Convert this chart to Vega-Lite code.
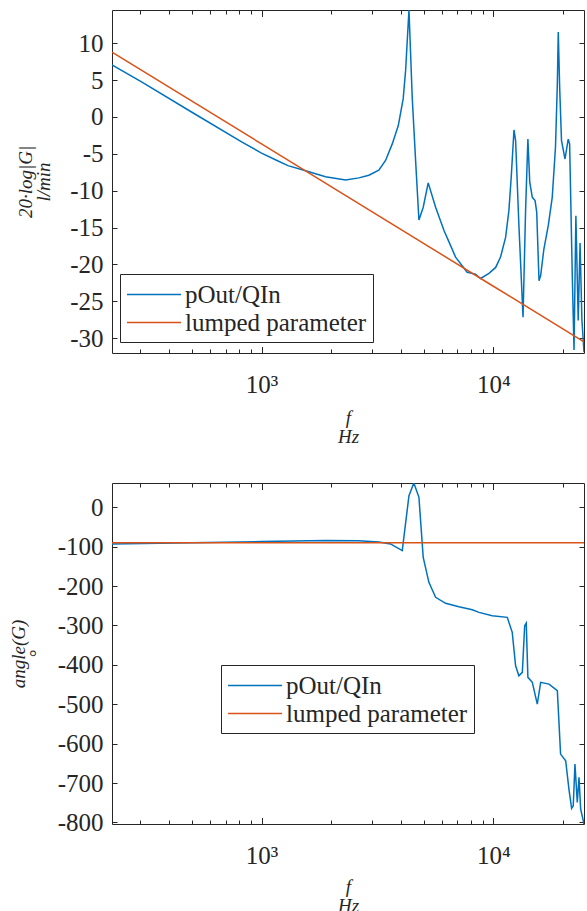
{
  "$schema": "https://vega.github.io/schema/vega-lite/v6.json",
  "padding": {"left": 8, "top": 6, "right": 2, "bottom": 0},
  "background": "white",
  "config": {
    "font": "Liberation Serif",
    "view": {"stroke": "#262626", "strokeWidth": 1},
    "axis": {"labelFont": "Liberation Serif", "labelFontSize": 25, "labelColor": "#262626", "domain": false, "tickColor": "#262626", "tickWidth": 1, "grid": false, "titleFont": "Liberation Serif", "titleFontSize": 19, "titleFontWeight": "normal", "titleFontStyle": "italic", "titleColor": "#262626", "labelFlush": false, "labelOverlap": false},
    "legend": {"title": null, "symbolType": "M-1,0H3", "symbolSize": 729, "symbolStrokeWidth": 1.5, "labelFontSize": 25, "labelFont": "Liberation Serif", "labelColor": "#262626", "labelLimit": 400, "strokeColor": "#262626", "fillColor": "white", "padding": 6, "rowPadding": -1, "labelOffset": 30, "cornerRadius": 0}
  },
  "datasets": {
    "mag": [
      {"f": 226.5, "v": 7.06, "s": "pOut/QIn"},
      {"f": 305, "v": 4.71, "s": "pOut/QIn"},
      {"f": 501, "v": 0.64, "s": "pOut/QIn"},
      {"f": 824, "v": -3.4, "s": "pOut/QIn"},
      {"f": 1000, "v": -4.9, "s": "pOut/QIn"},
      {"f": 1148, "v": -5.8, "s": "pOut/QIn"},
      {"f": 1300, "v": -6.6, "s": "pOut/QIn"},
      {"f": 1549, "v": -7.3, "s": "pOut/QIn"},
      {"f": 1888, "v": -8.1, "s": "pOut/QIn"},
      {"f": 2305, "v": -8.54, "s": "pOut/QIn"},
      {"f": 2630, "v": -8.26, "s": "pOut/QIn"},
      {"f": 2904, "v": -7.9, "s": "pOut/QIn"},
      {"f": 3206, "v": -7.2, "s": "pOut/QIn"},
      {"f": 3428, "v": -5.9, "s": "pOut/QIn"},
      {"f": 3664, "v": -3.65, "s": "pOut/QIn"},
      {"f": 3890, "v": -1.17, "s": "pOut/QIn"},
      {"f": 4083, "v": 2.45, "s": "pOut/QIn"},
      {"f": 4183, "v": 6.28, "s": "pOut/QIn"},
      {"f": 4325, "v": 14.5, "s": "pOut/QIn"},
      {"f": 4467, "v": 2.68, "s": "pOut/QIn"},
      {"f": 4620, "v": -5.92, "s": "pOut/QIn"},
      {"f": 4775, "v": -13.96, "s": "pOut/QIn"},
      {"f": 4983, "v": -12.24, "s": "pOut/QIn"},
      {"f": 5236, "v": -8.94, "s": "pOut/QIn"},
      {"f": 5636, "v": -12.24, "s": "pOut/QIn"},
      {"f": 6124, "v": -15.4, "s": "pOut/QIn"},
      {"f": 6471, "v": -17.1, "s": "pOut/QIn"},
      {"f": 6871, "v": -19.0, "s": "pOut/QIn"},
      {"f": 7709, "v": -21.05, "s": "pOut/QIn"},
      {"f": 8375, "v": -21.3, "s": "pOut/QIn"},
      {"f": 8810, "v": -21.9, "s": "pOut/QIn"},
      {"f": 9572, "v": -21.2, "s": "pOut/QIn"},
      {"f": 10233, "v": -20.4, "s": "pOut/QIn"},
      {"f": 10740, "v": -19.0, "s": "pOut/QIn"},
      {"f": 11298, "v": -16.3, "s": "pOut/QIn"},
      {"f": 11668, "v": -12.7, "s": "pOut/QIn"},
      {"f": 11940, "v": -8.2, "s": "pOut/QIn"},
      {"f": 12274, "v": -1.76, "s": "pOut/QIn"},
      {"f": 12474, "v": -3.2, "s": "pOut/QIn"},
      {"f": 12882, "v": -14.5, "s": "pOut/QIn"},
      {"f": 13428, "v": -27.15, "s": "pOut/QIn"},
      {"f": 13772, "v": -12.7, "s": "pOut/QIn"},
      {"f": 14093, "v": -2.98, "s": "pOut/QIn"},
      {"f": 14355, "v": -8.85, "s": "pOut/QIn"},
      {"f": 14723, "v": -10.9, "s": "pOut/QIn"},
      {"f": 15136, "v": -11.34, "s": "pOut/QIn"},
      {"f": 15382, "v": -12.9, "s": "pOut/QIn"},
      {"f": 15740, "v": -22.2, "s": "pOut/QIn"},
      {"f": 15996, "v": -21.5, "s": "pOut/QIn"},
      {"f": 16520, "v": -17.9, "s": "pOut/QIn"},
      {"f": 17258, "v": -14.7, "s": "pOut/QIn"},
      {"f": 17947, "v": -10.9, "s": "pOut/QIn"},
      {"f": 18535, "v": -4.1, "s": "pOut/QIn"},
      {"f": 18880, "v": 4.48, "s": "pOut/QIn"},
      {"f": 19055, "v": 11.5, "s": "pOut/QIn"},
      {"f": 19320, "v": 4.03, "s": "pOut/QIn"},
      {"f": 19679, "v": -3.2, "s": "pOut/QIn"},
      {"f": 20370, "v": -5.7, "s": "pOut/QIn"},
      {"f": 21038, "v": -3.0, "s": "pOut/QIn"},
      {"f": 21330, "v": -3.65, "s": "pOut/QIn"},
      {"f": 21878, "v": -20.8, "s": "pOut/QIn"},
      {"f": 22284, "v": -31.6, "s": "pOut/QIn"},
      {"f": 22699, "v": -13.4, "s": "pOut/QIn"},
      {"f": 23227, "v": -27.6, "s": "pOut/QIn"},
      {"f": 23659, "v": -17.1, "s": "pOut/QIn"},
      {"f": 24099, "v": -27.5, "s": "pOut/QIn"},
      {"f": 24604, "v": -31.9, "s": "pOut/QIn"},
      {"f": 226.5, "v": 8.8, "s": "lumped parameter"},
      {"f": 1000, "v": -3.65, "s": "lumped parameter"},
      {"f": 10000, "v": -22.95, "s": "lumped parameter"},
      {"f": 24604, "v": -30.5, "s": "lumped parameter"}
    ],
    "ph": [
      {"f": 226.5, "v": -93, "s": "pOut/QIn"},
      {"f": 500, "v": -90, "s": "pOut/QIn"},
      {"f": 1000, "v": -87, "s": "pOut/QIn"},
      {"f": 1888, "v": -84, "s": "pOut/QIn"},
      {"f": 2630, "v": -85, "s": "pOut/QIn"},
      {"f": 3206, "v": -88, "s": "pOut/QIn"},
      {"f": 3600, "v": -93, "s": "pOut/QIn"},
      {"f": 4046, "v": -110, "s": "pOut/QIn"},
      {"f": 4325, "v": 29.5, "s": "pOut/QIn"},
      {"f": 4540, "v": 61.7, "s": "pOut/QIn"},
      {"f": 4775, "v": 25.4, "s": "pOut/QIn"},
      {"f": 4983, "v": -127, "s": "pOut/QIn"},
      {"f": 5272, "v": -190.5, "s": "pOut/QIn"},
      {"f": 5636, "v": -228.6, "s": "pOut/QIn"},
      {"f": 6224, "v": -243.8, "s": "pOut/QIn"},
      {"f": 7103, "v": -252.4, "s": "pOut/QIn"},
      {"f": 8110, "v": -260, "s": "pOut/QIn"},
      {"f": 8670, "v": -266.7, "s": "pOut/QIn"},
      {"f": 9885, "v": -275.3, "s": "pOut/QIn"},
      {"f": 11482, "v": -279.4, "s": "pOut/QIn"},
      {"f": 12063, "v": -317.5, "s": "pOut/QIn"},
      {"f": 12474, "v": -402.3, "s": "pOut/QIn"},
      {"f": 12882, "v": -427.7, "s": "pOut/QIn"},
      {"f": 13336, "v": -419, "s": "pOut/QIn"},
      {"f": 13650, "v": -300.7, "s": "pOut/QIn"},
      {"f": 13865, "v": -293.8, "s": "pOut/QIn"},
      {"f": 14093, "v": -431.7, "s": "pOut/QIn"},
      {"f": 14723, "v": -444.4, "s": "pOut/QIn"},
      {"f": 15470, "v": -499.6, "s": "pOut/QIn"},
      {"f": 15996, "v": -444.4, "s": "pOut/QIn"},
      {"f": 17378, "v": -448.8, "s": "pOut/QIn"},
      {"f": 18880, "v": -465.7, "s": "pOut/QIn"},
      {"f": 19187, "v": -546, "s": "pOut/QIn"},
      {"f": 19498, "v": -626.5, "s": "pOut/QIn"},
      {"f": 20512, "v": -643.5, "s": "pOut/QIn"},
      {"f": 21184, "v": -715.4, "s": "pOut/QIn"},
      {"f": 21756, "v": -764.4, "s": "pOut/QIn"},
      {"f": 22110, "v": -757.8, "s": "pOut/QIn"},
      {"f": 22491, "v": -652, "s": "pOut/QIn"},
      {"f": 23014, "v": -749, "s": "pOut/QIn"},
      {"f": 23417, "v": -685.7, "s": "pOut/QIn"},
      {"f": 23800, "v": -766, "s": "pOut/QIn"},
      {"f": 24604, "v": -804, "s": "pOut/QIn"},
      {"f": 226.5, "v": -90, "s": "lumped parameter"},
      {"f": 24604, "v": -90, "s": "lumped parameter"}
    ]
  },
  "spacing": 32,
  "resolve": {"scale": {"color": "independent"}, "legend": {"color": "independent"}},
  "vconcat": [
    {
      "width": 472,
      "height": 343,
      "data": {"name": "mag"},
      "layer": [
        {
          "mark": {"type": "line", "clip": true, "strokeWidth": 1.5},
          "encoding": {
            "x": {"field": "f", "type": "quantitative", "scale": {"type": "log", "domain": [226.5, 24604], "nice": false}, "axis": {"orient": "bottom", "values": [1000, 10000], "tickSize": -6.5, "labelPadding": 26, "labelExpr": "datum.value == 1000 ? '10³' : '10⁴'", "title": ["f", "Hz"], "titlePadding": 11, "titleLineHeight": 19}},
            "y": {"field": "v", "type": "quantitative", "scale": {"domain": [-32, 14.5], "nice": false, "zero": false}, "axis": {"orient": "left", "values": [-30, -25, -20, -15, -10, -5, 0, 5, 10], "tickSize": -5, "labelPadding": 14, "labelExpr": "'' + datum.value", "title": ["20·log|G|", "l/min"], "titlePadding": 16, "titleLineHeight": 18}},
            "color": {"field": "s", "type": "nominal", "scale": {"domain": ["pOut/QIn", "lumped parameter"], "range": ["#0072BD", "#D95319"]}, "legend": {"orient": "none", "legendX": 8, "legendY": 264}}
          }
        },
        {
          "mark": {"type": "point", "opacity": 0},
          "encoding": {
            "x": {"field": "f", "type": "quantitative", "axis": {"orient": "top", "values": [1000, 10000], "tickSize": -6.5, "labels": false, "title": null}},
            "y": {"field": "v", "type": "quantitative", "axis": {"orient": "right", "values": [-30, -25, -20, -15, -10, -5, 0, 5, 10], "tickSize": -5, "labels": false, "title": null}}
          }
        },
        {
          "mark": {"type": "point", "opacity": 0},
          "encoding": {
            "x": {"field": "f", "type": "quantitative", "axis": {"orient": "bottom", "values": [300, 400, 500, 600, 700, 800, 900, 2000, 3000, 4000, 5000, 6000, 7000, 8000, 9000, 20000], "tickSize": -4, "labels": false, "title": null}},
            "y": {"field": "v", "type": "quantitative", "axis": null}
          }
        },
        {
          "mark": {"type": "point", "opacity": 0},
          "encoding": {
            "x": {"field": "f", "type": "quantitative", "axis": {"orient": "top", "values": [300, 400, 500, 600, 700, 800, 900, 2000, 3000, 4000, 5000, 6000, 7000, 8000, 9000, 20000], "tickSize": -4, "labels": false, "title": null}},
            "y": {"field": "v", "type": "quantitative", "axis": null}
          }
        }
      ]
    },
    {
      "width": 472,
      "height": 341,
      "data": {"name": "ph"},
      "layer": [
        {
          "mark": {"type": "line", "clip": true, "strokeWidth": 1.5},
          "encoding": {
            "x": {"field": "f", "type": "quantitative", "scale": {"type": "log", "domain": [226.5, 24604], "nice": false}, "axis": {"orient": "bottom", "values": [1000, 10000], "tickSize": -6.5, "labelPadding": 26, "labelExpr": "datum.value == 1000 ? '10³' : '10⁴'", "title": ["f", "Hz"], "titlePadding": 9, "titleLineHeight": 19}},
            "y": {"field": "v", "type": "quantitative", "scale": {"domain": [-804, 61.7], "nice": false, "zero": false}, "axis": {"orient": "left", "values": [-800, -700, -600, -500, -400, -300, -200, -100, 0], "tickSize": -5, "labelPadding": 14, "labelExpr": "'' + datum.value", "title": ["angle(G)", "°"], "titlePadding": 11, "titleLineHeight": 18}},
            "color": {"field": "s", "type": "nominal", "scale": {"domain": ["pOut/QIn", "lumped parameter"], "range": ["#0072BD", "#D95319"]}, "legend": {"orient": "none", "legendX": 109, "legendY": 182}}
          }
        },
        {
          "mark": {"type": "point", "opacity": 0},
          "encoding": {
            "x": {"field": "f", "type": "quantitative", "axis": {"orient": "top", "values": [1000, 10000], "tickSize": -6.5, "labels": false, "title": null}},
            "y": {"field": "v", "type": "quantitative", "axis": {"orient": "right", "values": [-800, -700, -600, -500, -400, -300, -200, -100, 0], "tickSize": -5, "labels": false, "title": null}}
          }
        },
        {
          "mark": {"type": "point", "opacity": 0},
          "encoding": {
            "x": {"field": "f", "type": "quantitative", "axis": {"orient": "bottom", "values": [300, 400, 500, 600, 700, 800, 900, 2000, 3000, 4000, 5000, 6000, 7000, 8000, 9000, 20000], "tickSize": -4, "labels": false, "title": null}},
            "y": {"field": "v", "type": "quantitative", "axis": null}
          }
        },
        {
          "mark": {"type": "point", "opacity": 0},
          "encoding": {
            "x": {"field": "f", "type": "quantitative", "axis": {"orient": "top", "values": [300, 400, 500, 600, 700, 800, 900, 2000, 3000, 4000, 5000, 6000, 7000, 8000, 9000, 20000], "tickSize": -4, "labels": false, "title": null}},
            "y": {"field": "v", "type": "quantitative", "axis": null}
          }
        }
      ]
    }
  ]
}
